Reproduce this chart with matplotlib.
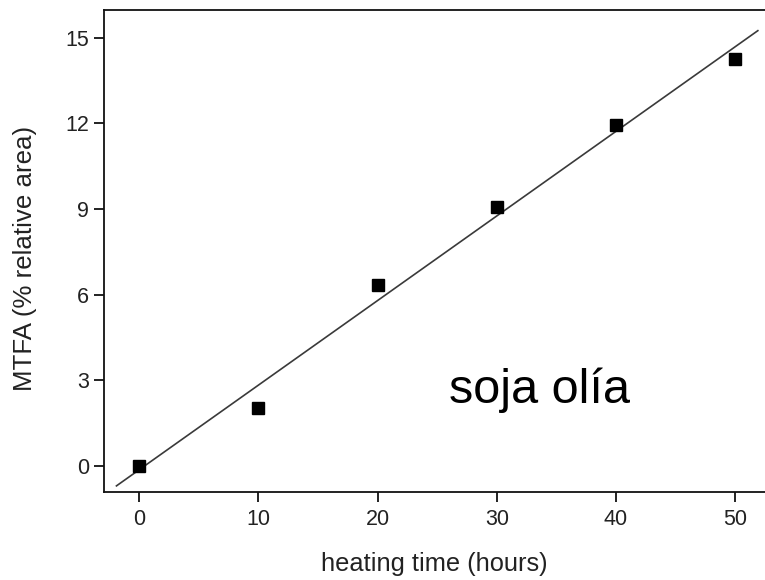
import matplotlib
matplotlib.use("AGG")
import matplotlib.pyplot as plt
import numpy as np

plt.rcParams['font.family'] = ['Liberation Sans', 'DejaVu Sans']

# data
hours = [0, 10, 20, 30, 40, 50]
mtfa = [0.0, 2.03, 6.34, 9.06, 11.93, 14.26]
xticks = [0, 10, 20, 30, 40, 50]
yticks = [0, 3, 6, 9, 12, 15]
note = 'soja olía'

fig = plt.figure(figsize=(7.65, 5.8), dpi=100)
ax = fig.add_axes([0.136, 0.152, 0.864, 0.831])

# linear fit through the points
slope, intercept = np.polyfit(hours, mtfa, 1)
xfit = np.array([-1.9, 51.9])
ax.plot(xfit, slope * xfit + intercept, color='#3a3a3a', lw=1.2, zorder=2)
ax.plot(hours, mtfa, 's', color='black', ms=8.5, zorder=3)

ax.set_xlim(-2.94, 52.5)
ax.set_ylim(-0.91, 15.97)
ax.set_xticks(xticks)
ax.set_yticks(yticks)

for side in ['left', 'bottom', 'top']:
    ax.spines[side].set_linewidth(1.3)
    ax.spines[side].set_color('#111111')
ax.spines['right'].set_visible(False)

ax.tick_params(direction='out', length=7, width=1.3, color='#111111',
               labelsize=15.5, labelcolor='#222222')
ax.tick_params(axis='x', pad=5)
ax.tick_params(axis='y', pad=4)

ax.set_xlabel('heating time (hours)', fontsize=18.3, color='#222222', labelpad=16)
ax.set_ylabel('MTFA (% relative area)', fontsize=18.6, color='#222222')
ax.yaxis.set_label_coords(-0.102, 0.485)

ax.text(0.522, 0.185, note, transform=ax.transAxes, fontsize=35,
        ha='left', va='baseline', color='black')

plt.savefig('out.png', dpi=100)
